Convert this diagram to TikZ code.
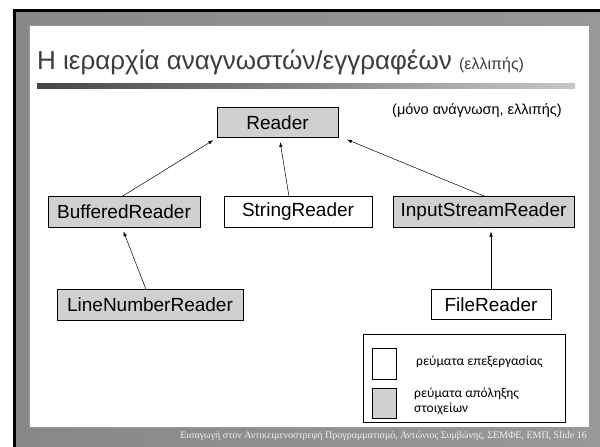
\documentclass[tikz,border=0pt]{standalone}
\usepackage{fontspec}
\setmainfont{Liberation Sans}
\newfontfamily\legendfont{Carlito}
\newfontfamily\footfont{Liberation Serif}
\usetikzlibrary{arrows.meta}

\tikzset{
  cls/.style={draw=black, line width=0.6pt, minimum height=30.5pt, inner sep=0pt,
    font=\fontsize{19}{19}\selectfont},
  clsgray/.style={cls, fill=boxgray},
  inherit/.style={-{Latex[length=5pt,width=3.5pt]}, line width=0.5pt},
  keybox/.style={draw=black, line width=0.6pt, minimum width=24pt, inner sep=0pt},
  keytext/.style={anchor=base west, inner sep=0pt, font=\legendfont\fontsize{13.5}{15}\selectfont}
}

\begin{document}
\begin{tikzpicture}[x=1pt, y=-1pt]
    % Colours of the slide
    \definecolor{boxgray}{RGB}{208,208,208}
    \definecolor{titlegray}{RGB}{60,60,60}
    \definecolor{framedark}{RGB}{136,136,136}
    \definecolor{framelight}{RGB}{178,178,178}
    \definecolor{framemid}{RGB}{152,152,152}
    \definecolor{bardark}{RGB}{70,70,70}
    \definecolor{barlight}{RGB}{200,200,200}

    \useasboundingbox (0,0) rectangle (600,447);

    % 1. Slide frame
    \fill[white] (0,0) rectangle (600,447);
    \fill[black] (13,9) rectangle (600,447);
    \shade[left color=framedark, middle color=framelight, right color=framemid] (16,12) rectangle (600,447);
    \fill[white, draw=gray!80] (29,25) rectangle (589,427);

    % 2. Title and underline bar
    \node[anchor=base west, inner sep=0pt, text=titlegray] (title) at (37,69)
      {\fontsize{26}{26}\selectfont Η ιεραρχία αναγνωστών/εγγραφέων \fontsize{16}{16}\selectfont(ελλιπής)};
    \shade[left color=bardark, right color=barlight] (37,83) rectangle (575,88);
    \node[anchor=base east, inner sep=0pt, font=\fontsize{14.5}{15}\selectfont] (note) at (562,114)
      {(μόνο ανάγνωση, ελλιπής)};

    % 3. Classes
    \node[clsgray, minimum width=121pt] (reader)   at (277.5,122.5) {Reader};
    \node[clsgray, minimum width=152pt] (buffered) at (124,212)     {BufferedReader};
    \node[cls,     minimum width=148pt] (string)   at (298,212)     {StringReader};
    \node[clsgray, minimum width=181pt] (input)    at (483.5,212)   {InputStreamReader};
    \node[clsgray, minimum width=186pt] (linenum)  at (150,305)     {LineNumberReader};
    \node[cls,     minimum width=120pt] (file)     at (491,304.5)   {FileReader};

    % 4. Inheritance arrows
    \draw[inherit, shorten >=4pt] ([xshift=-2pt]buffered.north) -- (reader.south west);
    \draw[inherit, shorten >=4pt] ([xshift=-9pt]string.north) -- ([xshift=2pt]reader.south);
    \draw[inherit, shorten >=4pt] ([xshift=1.5pt]input.north) -- ([xshift=5pt]reader.south east);
    \draw[inherit, shorten >=4pt] ([xshift=-4pt]linenum.north) -- ([xshift=-2pt]buffered.south);
    \draw[inherit, shorten >=4pt] (file.north) -- (file.north |- input.south);

    % 5. Legend
    \draw[line width=0.6pt] (363,334) rectangle (565,422);
    \node[keybox, fill=white,   minimum height=31pt] (keyplain) at (384,363.5) {};
    \node[keybox, fill=boxgray, minimum height=30pt] (keybase)  at (384,403)   {};
    \node[keytext] (plaintext) at (416,365) {ρεύματα επεξεργασίας};
    \node[keytext] (basetext1) at (414,397) {ρεύματα απόληξης};
    \node[keytext] (basetext2) at (414,412) {στοιχείων};

    % 6. Footer
    \node[anchor=base east, inner sep=0pt, text=gray!12, font=\footfont\fontsize{10}{10}\selectfont] (footer) at (587,438)
      {Εισαγωγή στον Αντικειμενοστρεφή Προγραμματισμό, Αντώνιος Συμβώνης, ΣΕΜΦΕ, ΕΜΠ, Slide 16};
\end{tikzpicture}
\end{document}
